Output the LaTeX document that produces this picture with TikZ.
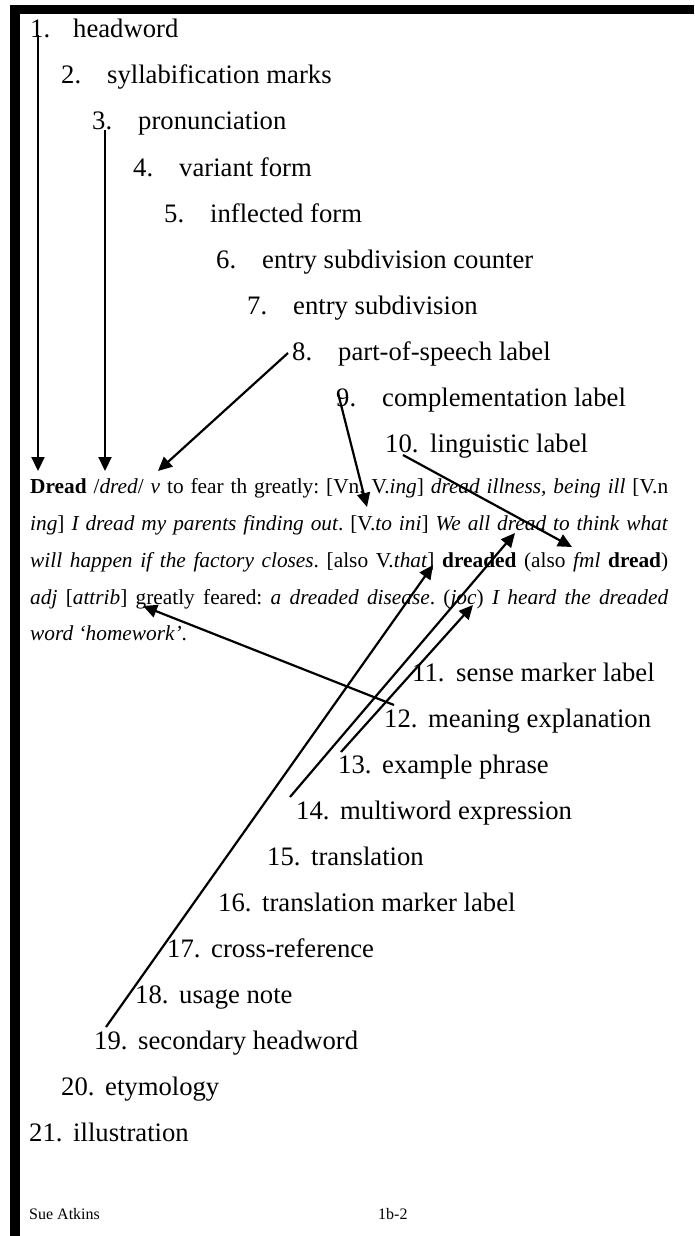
\documentclass[tikz,border=0pt]{standalone}
\usepackage{fontspec}
\setmainfont{Liberation Serif}
\usetikzlibrary{arrows.meta}
\tikzset{
  item/.style={anchor=base west, inner sep=0pt, font=\fontsize{26.67}{32}\selectfont},
  para/.style={anchor=base west, inner sep=0pt, font=\fontsize{21.33}{26}\selectfont\frenchspacing},
  foot/.style={anchor=base west, inner sep=0pt, font=\fontsize{16}{19}\selectfont},
  pointer/.style={line width=2.2pt, -{Triangle[length=14pt,width=13pt]}},
  bar/.style={fill=black, draw=none}
}
\begin{document}
\begin{tikzpicture}[x=1pt,y=-1pt]
\useasboundingbox (0,0) rectangle (694,1236);
\fill[white] (0,0) rectangle (694,1236);
% frame bars
\path[bar] (10,5) rectangle (694,14);
\path[bar] (10,5) rectangle (20,1236);
% items 1-10
\node[item] (n1) at (30,38) {1.};   \node[item] (t1) at (73,38) {headword};
\node[item] (n2) at (61,84) {2.};   \node[item] (t2) at (107,84) {syllabification marks};
\node[item] (n3) at (92,130) {3.};  \node[item] (t3) at (138,130) {pronunciation};
\node[item] (n4) at (133,176) {4.}; \node[item] (t4) at (179,176) {variant form};
\node[item] (n5) at (164,222) {5.}; \node[item] (t5) at (210,222) {inflected form};
\node[item] (n6) at (216,268) {6.}; \node[item] (t6) at (262,268) {entry subdivision counter};
\node[item] (n7) at (247,314) {7.}; \node[item] (t7) at (293,314) {entry subdivision};
\node[item] (n8) at (292,360) {8.}; \node[item] (t8) at (338,360) {part-of-speech label};
\node[item] (n9) at (336,406) {9.}; \node[item] (t9) at (382,406) {complementation label};
\node[item] (n10) at (385,452) {10.}; \node[item] (t10) at (430,452) {linguistic label};
% entry paragraph
\node[para] (p1) at (30,493) {\makebox[638pt][s]{\textbf{Dread} /\textit{dred}/ \textit{v} to fear th greatly: [Vn, V.\textit{ing}] \textit{dread illness, being ill} [V.n}};
\node[para] (p2) at (30,530) {\makebox[638pt][s]{\textit{ing}] \textit{I dread my parents finding out}. [V.\textit{to ini}] \textit{We all dread to think what}}};
\node[para] (p3) at (30,567) {\makebox[638pt][s]{\textit{will happen if the factory closes}. [also V.\textit{that}] \textbf{dreaded} (also \textit{fml} \textbf{dread})}};
\node[para] (p4) at (30,604) {\makebox[638pt][s]{\textit{adj} [\textit{attrib}] greatly feared: \textit{a dreaded disease}. (\textit{joc}) \textit{I heard the dreaded}}};
\node[para] (p5) at (30,640) {\textit{word ‘homework’}.};
% items 11-21
\node[item] (n11) at (412,681) {11.}; \node[item] (t11) at (456,681) {sense marker label};
\node[item] (n12) at (384,727) {12.}; \node[item] (t12) at (428,727) {meaning explanation};
\node[item] (n13) at (338,773) {13.}; \node[item] (t13) at (382,773) {example phrase};
\node[item] (n14) at (296,819) {14.}; \node[item] (t14) at (340,819) {multiword expression};
\node[item] (n15) at (267,865) {15.}; \node[item] (t15) at (311,865) {translation};
\node[item] (n16) at (218,911) {16.}; \node[item] (t16) at (262,911) {translation marker label};
\node[item] (n17) at (167,957) {17.}; \node[item] (t17) at (211,957) {cross-reference};
\node[item] (n18) at (135,1003) {18.}; \node[item] (t18) at (179,1003) {usage note};
\node[item] (n19) at (94,1049) {19.}; \node[item] (t19) at (138,1049) {secondary headword};
\node[item] (n20) at (61,1095) {20.}; \node[item] (t20) at (105,1095) {etymology};
\node[item] (n21) at (29,1141) {21.}; \node[item] (t21) at (73,1141) {illustration};
% footer
\node[foot] (f1) at (29,1219) {Sue Atkins};
\node[foot] (f2) at (378,1219) {1b-2};
% connector ends
\coordinate (s1) at (38,35);    \coordinate (e1) at (38,471);
\coordinate (s3) at (105,130);  \coordinate (e3) at (105,471);
\coordinate (s8) at (288,353);  \coordinate (e8) at (158,471);
\coordinate (s9) at (338,393);  \coordinate (e9) at (367,507);
\coordinate (s10) at (403,455); \coordinate (e10) at (572,547);
\coordinate (s12) at (394,705); \coordinate (e12) at (143,606);
\coordinate (s13) at (341,752); \coordinate (e13) at (473,605);
\coordinate (s14) at (290,797); \coordinate (e14) at (515,533);
\coordinate (s19) at (106,1027); \coordinate (e19) at (433,565);
% connectors
\draw[pointer] (s1) -- (e1);
\draw[pointer] (s3) -- (e3);
\draw[pointer] (s8) -- (e8);
\draw[pointer] (s9) -- (e9);
\draw[pointer] (s10) -- (e10);
\draw[pointer] (s12) -- (e12);
\draw[pointer] (s13) -- (e13);
\draw[pointer] (s14) -- (e14);
\draw[pointer] (s19) -- (e19);
\end{tikzpicture}
\end{document}
